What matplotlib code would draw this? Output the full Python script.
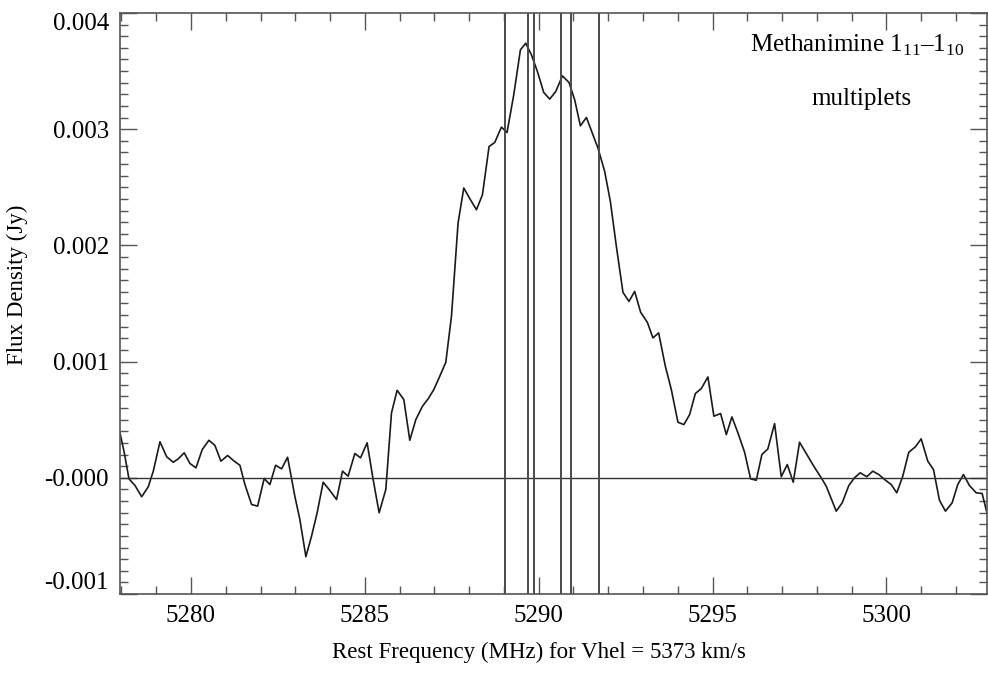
import numpy as np
import matplotlib
matplotlib.use("Agg")
import matplotlib.pyplot as plt
from matplotlib.ticker import MultipleLocator

plt.rcParams['font.family'] = ['Liberation Serif', 'DejaVu Serif']
plt.rcParams['mathtext.fontset'] = 'custom'
plt.rcParams['mathtext.rm'] = 'Liberation Serif'

# spectrum, rest frequency (MHz) and flux density (mJy)
freq = [5277.960, 5278.083, 5278.218, 5278.391, 5278.583, 5278.773, 5278.917, 5279.109,
        5279.302, 5279.491, 5279.635, 5279.807, 5279.971, 5280.144, 5280.325, 5280.517,
        5280.690, 5280.862, 5281.055, 5281.244, 5281.408, 5281.552, 5281.744, 5281.917,
        5282.106, 5282.270, 5282.434, 5282.606, 5282.779, 5282.989, 5283.132, 5283.305,
        5283.468, 5283.629, 5283.802, 5283.974, 5284.187, 5284.359, 5284.520, 5284.713,
        5284.876, 5285.066, 5285.239, 5285.411, 5285.603, 5285.767, 5285.928, 5286.121,
        5286.293, 5286.466, 5286.658, 5286.819, 5286.983, 5287.155, 5287.328, 5287.491,
        5287.681, 5287.845, 5288.037, 5288.210, 5288.382, 5288.572, 5288.736, 5288.928,
        5289.089, 5289.282, 5289.474, 5289.626, 5289.790, 5289.963, 5290.144, 5290.316,
        5290.489, 5290.681, 5290.871, 5291.034, 5291.198, 5291.371, 5291.543, 5291.704,
        5291.897, 5292.060, 5292.233, 5292.422, 5292.595, 5292.759, 5292.931, 5293.124,
        5293.284, 5293.448, 5293.641, 5293.813, 5294.003, 5294.175, 5294.339, 5294.503,
        5294.675, 5294.865, 5295.037, 5295.230, 5295.394, 5295.555, 5295.727, 5295.920,
        5296.092, 5296.256, 5296.417, 5296.589, 5296.782, 5296.974, 5297.147, 5297.319,
        5297.500, 5297.693, 5297.931, 5298.124, 5298.267, 5298.555, 5298.727, 5298.917,
        5299.080, 5299.244, 5299.434, 5299.606, 5299.779, 5299.971, 5300.135, 5300.296,
        5300.468, 5300.641, 5300.833, 5300.997, 5301.187, 5301.351, 5301.523, 5301.695,
        5301.888, 5302.049, 5302.213, 5302.385, 5302.578, 5302.750, 5302.888]
flux_mjy = [0.387, 0.215, -0.009, -0.066, -0.163, -0.077, 0.057, 0.310,
            0.181, 0.134, 0.163, 0.215, 0.123, 0.086, 0.243, 0.323,
            0.278, 0.143, 0.192, 0.143, 0.108, -0.058, -0.230, -0.244,
            -0.006, -0.058, 0.108, 0.077, 0.177, -0.161, -0.359, -0.679,
            -0.502, -0.301, -0.038, -0.101, -0.187, 0.057, 0.014, 0.209,
            0.172, 0.301, -0.015, -0.301, -0.101, 0.559, 0.753, 0.673,
            0.323, 0.501, 0.616, 0.679, 0.759, 0.874, 0.994, 1.390,
            2.193, 2.494, 2.393, 2.307, 2.436, 2.851, 2.886, 3.018,
            2.972, 3.296, 3.683, 3.740, 3.640, 3.496, 3.316, 3.259,
            3.324, 3.459, 3.402, 3.253, 3.029, 3.101, 2.966, 2.837,
            2.636, 2.378, 1.991, 1.596, 1.518, 1.604, 1.424, 1.338,
            1.204, 1.247, 0.960, 0.759, 0.478, 0.458, 0.544, 0.725,
            0.768, 0.868, 0.530, 0.553, 0.372, 0.524, 0.387, 0.220,
            -0.009, -0.021, 0.200, 0.249, 0.467, 0.009, 0.114, -0.038,
            0.306, 0.209, 0.089, 0.000, -0.072, -0.287, -0.215, -0.066,
            0.000, 0.043, 0.009, 0.057, 0.028, -0.021, -0.058, -0.129,
            0.014, 0.220, 0.267, 0.335, 0.143, 0.071, -0.193, -0.287,
            -0.215, -0.058, 0.028, -0.066, -0.129, -0.135, -0.301]

# hyperfine component frequencies (MHz)
components = [5289.04, 5289.69, 5289.85, 5290.65, 5290.92, 5291.72]

ytick_vals = [-0.001, 0.0, 0.001, 0.002, 0.003, 0.004]
ytick_labels = ['-0.001', '-0.000', '0.001', '0.002', '0.003', '0.004']
xtick_vals = [5280, 5285, 5290, 5295, 5300]

fig = plt.figure(figsize=(9.88, 6.77), dpi=100)
ax = fig.add_axes([120 / 988, 1 - 594 / 677, 867 / 988, 581 / 677])

flux = np.array(flux_mjy) * 1e-3
ax.plot(freq, flux, color='#1a1a1a', linewidth=1.2)
ax.axhline(0, color='#333333', linewidth=1.0)
for c in components:
    ax.axvline(c, color='#4a4a4a', linewidth=1.4)

ax.set_xlim(5277.96, 5302.89)
ax.set_ylim(-0.001, 0.004)
ax.set_xticks(xtick_vals)
ax.set_xticklabels([str(v) for v in xtick_vals])
ax.xaxis.set_minor_locator(MultipleLocator(1))
ax.set_yticks(ytick_vals)
ax.set_yticklabels(ytick_labels)
ax.yaxis.set_minor_locator(MultipleLocator(0.0001))
ax.tick_params(which='both', direction='in', top=True, right=True,
               color='#555555', labelsize=18)
ax.tick_params(which='major', length=12, width=1.0, pad=8)
ax.tick_params(which='minor', length=6, width=1.0)
# end labels sit inside the frame, as in the original plot
ylabels = ax.get_yticklabels()
ylabels[0].set_verticalalignment('bottom')
ylabels[-1].set_verticalalignment('top')
for s in ax.spines.values():
    s.set_color('#555555')
    s.set_linewidth(1.2)

ax.set_xlabel('Rest Frequency (MHz) for Vhel = 5373 km/s', fontsize=16.5)
ax.xaxis.set_label_coords(0.483, -0.083)
ax.set_ylabel('Flux Density (Jy)', fontsize=16.5)
ax.yaxis.set_label_coords(-0.106, 0.532)

ax.text(0.85, 0.945, 'Methanimine 1$_{11}$–1$_{10}$', transform=ax.transAxes,
        ha='center', va='center', fontsize=18)
ax.text(0.855, 0.852, 'multiplets', transform=ax.transAxes,
        ha='center', va='center', fontsize=18)

fig.savefig('out.png', dpi=100)
